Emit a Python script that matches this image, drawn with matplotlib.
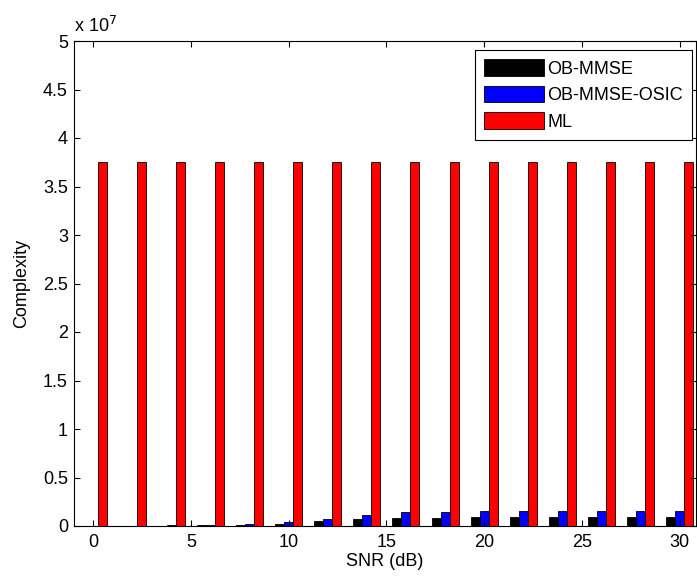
import matplotlib
matplotlib.use("Agg")
import matplotlib.pyplot as plt
import numpy as np

plt.rcParams['font.family'] = ['Liberation Sans', 'DejaVu Sans']

snr = [0, 2, 4, 6, 8, 10, 12, 14, 16, 18, 20, 22, 24, 26, 28, 30]
ob_mmse = [3e4, 4e4, 5e4, 7e4, 1.2e5, 2.5e5, 5.5e5, 7.2e5, 8.4e5, 8.7e5, 8.8e5, 8.8e5, 8.8e5, 8.8e5, 8.8e5, 8.8e5]
ob_mmse_osic = [4e4, 5e4, 7e4, 1.0e5, 2.5e5, 4.5e5, 7.5e5, 1.15e6, 1.45e6, 1.48e6, 1.5e6, 1.5e6, 1.5e6, 1.5e6, 1.5e6, 1.5e6]
ml = [3.75e7] * 16
series_names = ['OB-MMSE', 'OB-MMSE-OSIC', 'ML']
xticks = [0, 5, 10, 15, 20, 25, 30]
yticks = [0, 0.5e7, 1e7, 1.5e7, 2e7, 2.5e7, 3e7, 3.5e7, 4e7, 4.5e7, 5e7]
ytick_labels = ['0', '0.5', '1', '1.5', '2', '2.5', '3', '3.5', '4', '4.5', '5']

fig = plt.figure(figsize=(6.97, 5.81), dpi=100)
ax = fig.add_axes([73.5 / 697, 55 / 581, 622.5 / 697, 485 / 581])

x = np.array(snr, dtype=float)
w = 0.46
ax.bar(x - w, ob_mmse, width=w, color='black', edgecolor='black', linewidth=0.6, label=series_names[0])
ax.bar(x, ob_mmse_osic, width=w, color='#0000ff', edgecolor='black', linewidth=0.6, label=series_names[1])
ax.bar(x + w, ml, width=w, color='#ff0000', edgecolor='black', linewidth=0.6, label=series_names[2])

ax.set_xlim(-1.0, 30.83)
ax.set_ylim(0, 5e7)
ax.set_xticks(xticks)
ax.set_xticklabels([str(t) for t in xticks])
ax.set_yticks(yticks)
ax.set_yticklabels(ytick_labels)
ax.tick_params(direction='in', top=True, right=True, labelsize=13, length=4, width=0.8)
ax.tick_params(axis='x', pad=6)
ax.tick_params(axis='y', pad=4)
for s in ax.spines.values():
    s.set_linewidth(0.8)

ax.set_xlabel('SNR (dB)', fontsize=13, labelpad=1)
ax.set_ylabel('Complexity', fontsize=13, labelpad=9)
ax.text(0.0, 1.01, r'x 10$^{7}$', transform=ax.transAxes, fontsize=13, ha='left', va='bottom')

leg = ax.legend(loc='upper right', bbox_to_anchor=(0.9936, 0.9814), fontsize=13,
                handlelength=3.3, handleheight=1.05,
                fancybox=False, edgecolor='black', framealpha=1, borderpad=0.5,
                labelspacing=0.45, handletextpad=0.2, borderaxespad=0.0)
leg.get_frame().set_linewidth(0.8)

fig.savefig('out.png', dpi=100)
